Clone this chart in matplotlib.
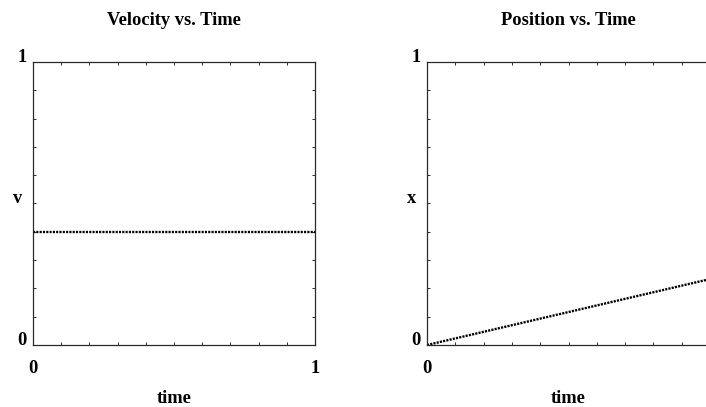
import matplotlib
matplotlib.use("Agg")
import matplotlib.pyplot as plt
from matplotlib.transforms import offset_copy, blended_transform_factory
from matplotlib.ticker import MultipleLocator

# ---- data ----
time_pts = [0.0, 1.0]
velocity = [0.40, 0.40]
position = [0.0, 0.233]
x_tick_labels = ["0", "1"]
y_tick_labels = ["0", "1"]
titles = ["Velocity vs. Time", "Position vs. Time"]
ylabels = ["v", "x"]
xlabel = "time"

plt.rcParams['font.family'] = ['Liberation Serif', 'DejaVu Serif']
FS = 13.3

fig = plt.figure(figsize=(7.06, 4.07), dpi=100)
W, H = 706, 407
ax_h = 283 / H
ax_bottom = 1 - 345 / H
lefts = [33 / W, 427 / W]
widths = [282 / W, 283 / W]
series = [velocity, position]

for left, aw, ys, title, ylab in zip(lefts, widths, series, titles, ylabels):
    ax = fig.add_axes([left, ax_bottom, aw, ax_h])
    ax.set_xlim(0, 1)
    ax.set_ylim(0, 1)
    ax.plot(time_pts, ys, color='black', linewidth=1.7,
            linestyle=(0, (0.9, 0.5)), dash_capstyle='butt', clip_on=True)
    for s in ax.spines.values():
        s.set_linewidth(0.9)
        s.set_color('#2a2a2a')
    ax.xaxis.set_major_locator(MultipleLocator(0.1))
    ax.yaxis.set_major_locator(MultipleLocator(0.1))
    ax.tick_params(which='both', direction='in', length=2.5, width=0.7,
                   color='#2a2a2a', top=True, right=True,
                   labelbottom=False, labelleft=False)

    # x tick labels
    for v, lab in zip([0.0, 1.0], x_tick_labels):
        tr = offset_copy(blended_transform_factory(ax.transData, ax.transAxes),
                         fig=fig, x=0, y=-28, units='dots')
        ax.text(v, 0, lab, transform=tr, ha='center', va='baseline',
                fontsize=FS, fontweight='bold', clip_on=False)
    # y tick labels
    for v, lab in zip([0.0, 1.0], y_tick_labels):
        tr = offset_copy(blended_transform_factory(ax.transAxes, ax.transData),
                         fig=fig, x=-11, y=0, units='dots')
        ax.text(0, v, lab, transform=tr, ha='center', va='baseline',
                fontsize=FS, fontweight='bold', clip_on=False)
    # y label
    tr = offset_copy(ax.transAxes, fig=fig, x=-15, y=0, units='dots')
    ax.text(0, 0.5, ylab, transform=tr, ha='center', va='baseline',
            fontsize=FS, fontweight='bold')
    # x label
    tr = offset_copy(ax.transAxes, fig=fig, x=0, y=-58, units='dots')
    ax.text(0.5, 0, xlabel, transform=tr, ha='center', va='baseline',
            fontsize=FS, fontweight='bold')
    # title
    tr = offset_copy(ax.transAxes, fig=fig, x=0, y=37, units='dots')
    ax.text(0.5, 1, title, transform=tr, ha='center', va='baseline',
            fontsize=FS, fontweight='bold')

fig.savefig("out.png", dpi=100)
